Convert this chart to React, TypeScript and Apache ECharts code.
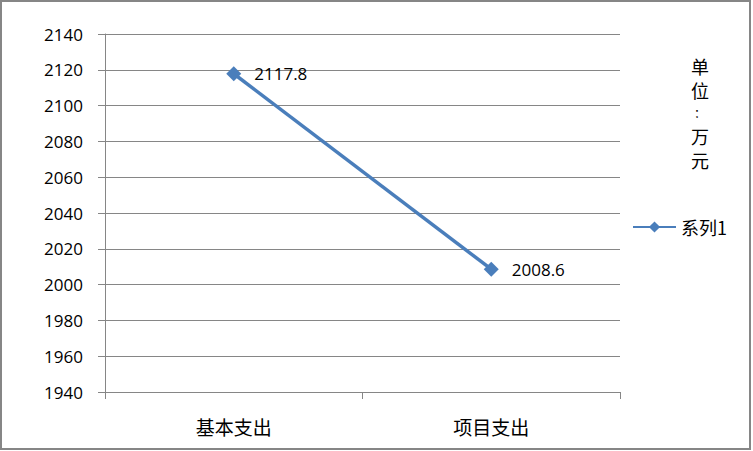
import React, { useEffect, useRef } from "react";
import * as echarts from "echarts";

const categories = ["基本支出", "项目支出"];
const seriesName = "系列1";
const values = [2117.8, 2008.6];
const yMin = 1940;
const yMax = 2140;
const yStep = 20;
const unitChars = ["单", "位", "：", "万", "元"];
const unitY = [66, 90, 112, 136, 160];
const unitSize = [18, 18, 12, 18, 18];

export default function App() {
  const ref = useRef<HTMLDivElement>(null);
  useEffect(() => {
    document.body.style.margin = "0";
    const chart = echarts.init(ref.current!, null, { renderer: "svg" });
    const axisColor = "#868686";
    chart.setOption({
      animation: false,
      backgroundColor: "#ffffff",
      grid: { left: 105, right: 133, top: 34, bottom: 59 },
      xAxis: {
        type: "category",
        data: categories,
        boundaryGap: true,
        axisLine: { lineStyle: { color: axisColor, width: 1 } },
        axisTick: { show: true, length: 7, alignWithLabel: false, lineStyle: { color: axisColor } },
        axisLabel: { color: "#000", fontSize: 19, margin: 25, fontFamily: "Noto Sans CJK SC" },
        splitLine: { show: false },
      },
      yAxis: {
        type: "value",
        min: yMin,
        max: yMax,
        interval: yStep,
        axisLine: { show: true, lineStyle: { color: axisColor, width: 1 } },
        axisTick: { show: true, length: 7, lineStyle: { color: axisColor } },
        axisLabel: {
          color: "#000",
          fontSize: 17,
          margin: 22,
          fontFamily: "Open Sans",
          formatter: (v: number) => String(v),
        },
        splitLine: { show: true, lineStyle: { color: axisColor, width: 1 } },
      },
      legend: {
        show: true,
        data: [seriesName],
        left: 632,
        top: 218,
        padding: 0,
        orient: "vertical",
        itemWidth: 43,
        itemHeight: 14,
        itemGap: 6,
        textStyle: { color: "#000", fontSize: 18, fontFamily: "Noto Sans CJK SC" },
      },
      series: [
        {
          name: seriesName,
          type: "line",
          data: values,
          symbol: "diamond",
          symbolSize: 15,
          lineStyle: { color: "#4A7EBB", width: 3.5 },
          itemStyle: { color: "#4A7EBB" },
          label: {
            show: true,
            position: "right",
            distance: 13,
            color: "#000",
            fontSize: 17,
            fontFamily: "Open Sans",
          },
        },
      ],
      graphic: [
        {
          type: "rect",
          shape: { x: 1, y: 1, width: 749, height: 448 },
          style: { fill: "none", stroke: axisColor, lineWidth: 2 },
          silent: true,
        },
        ...unitChars.map((c, i) => ({
          type: "text",
          x: 700,
          y: unitY[i],
          style: {
            text: c,
            fill: "#000",
            fontSize: unitSize[i],
            lineHeight: unitSize[i],
            fontFamily: "Noto Sans CJK SC",
            align: "center",
            verticalAlign: "middle",
          },
        })),
      ],
    });
    return () => chart.dispose();
  }, []);
  return (
    <div
      ref={ref}
      style={{ position: "absolute", left: 0, top: 0, width: 753, height: 451 }}
    />
  );
}
